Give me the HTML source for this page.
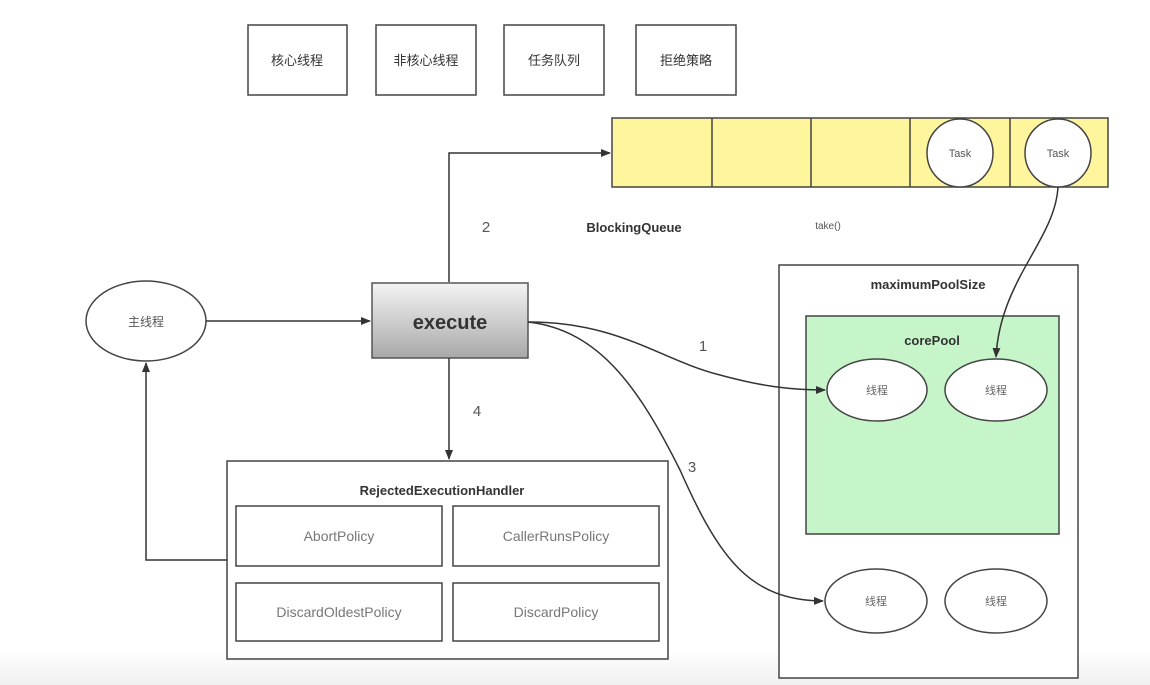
<!DOCTYPE html>
<html><head><meta charset="utf-8"><style>
html,body{margin:0;padding:0;background:#fff;}
svg{display:block;}
text{font-family:"Liberation Sans","Noto Sans CJK SC",sans-serif;}
</style></head><body>
<svg width="1150" height="685" viewBox="0 0 1150 685" xmlns="http://www.w3.org/2000/svg">
<defs>
<linearGradient id="bg" x1="0" y1="0" x2="0" y2="1">
<stop offset="0" stop-color="#ffffff"/><stop offset="1" stop-color="#f0f0f0"/>
</linearGradient>
<linearGradient id="ex" x1="0" y1="0" x2="0" y2="1">
<stop offset="0" stop-color="#f4f4f4"/><stop offset="1" stop-color="#a8a8a8"/>
</linearGradient>
<marker id="ar" markerWidth="10" markerHeight="8" refX="9" refY="4" orient="auto" markerUnits="userSpaceOnUse">
<path d="M0,0 L10,4 L0,8 z" fill="#333"/>
</marker>
</defs>
<rect x="0" y="650" width="1150" height="35" fill="url(#bg)"/>
<g fill="#fff" stroke="#444" stroke-width="1.5">
<rect x="248" y="25" width="99" height="70"/>
<rect x="376" y="25" width="100" height="70"/>
<rect x="504" y="25" width="100" height="70"/>
<rect x="636" y="25" width="100" height="70"/>
</g>
<g font-size="13" fill="#333" text-anchor="middle">
<text x="297" y="65">核心线程</text>
<text x="426" y="65">非核心线程</text>
<text x="554" y="65">任务队列</text>
<text x="686" y="65">拒绝策略</text>
</g>
<rect x="612" y="118" width="496" height="69" fill="#fff59d" stroke="#444" stroke-width="1.5"/>
<g stroke="#444" stroke-width="1.5">
<line x1="712" y1="118" x2="712" y2="187"/><line x1="811" y1="118" x2="811" y2="187"/>
<line x1="910" y1="118" x2="910" y2="187"/><line x1="1010" y1="118" x2="1010" y2="187"/>
</g>
<g fill="#fff" stroke="#444" stroke-width="1.5">
<ellipse cx="960" cy="153" rx="33" ry="34"/><ellipse cx="1058" cy="153" rx="33" ry="34"/>
</g>
<g font-size="11" fill="#555" text-anchor="middle">
<text x="960" y="157">Task</text><text x="1058" y="157">Task</text>
</g>
<path d="M449,282 L449,153 L610,153" fill="none" stroke="#333" stroke-width="1.5" marker-end="url(#ar)"/>
<text x="486" y="232" font-size="15" fill="#555" text-anchor="middle">2</text>
<text x="634" y="232" font-size="13" font-weight="bold" fill="#333" text-anchor="middle">BlockingQueue</text>
<text x="828" y="229" font-size="10" fill="#555" text-anchor="middle">take()</text>
<ellipse cx="146" cy="321" rx="60" ry="40" fill="#fff" stroke="#444" stroke-width="1.5"/>
<text x="146" y="326" font-size="12" fill="#555" text-anchor="middle">主线程</text>
<line x1="206" y1="321" x2="370" y2="321" stroke="#333" stroke-width="1.5" marker-end="url(#ar)"/>
<rect x="372" y="283" width="156" height="75" fill="url(#ex)" stroke="#555" stroke-width="1.5"/>
<text x="450" y="329" font-size="20" font-weight="bold" fill="#333" text-anchor="middle">execute</text>
<line x1="449" y1="358" x2="449" y2="459" stroke="#333" stroke-width="1.5" marker-end="url(#ar)"/>
<text x="477" y="416" font-size="15" fill="#555" text-anchor="middle">4</text>
<rect x="227" y="461" width="441" height="198" fill="#fff" stroke="#444" stroke-width="1.5"/>
<text x="442" y="495" font-size="13" font-weight="bold" fill="#333" text-anchor="middle">RejectedExecutionHandler</text>
<g fill="#fff" stroke="#444" stroke-width="1.5">
<rect x="236" y="506" width="206" height="60"/><rect x="453" y="506" width="206" height="60"/>
<rect x="236" y="583" width="206" height="58"/><rect x="453" y="583" width="206" height="58"/>
</g>
<g font-size="14" fill="#777" text-anchor="middle">
<text x="339" y="541">AbortPolicy</text><text x="556" y="541">CallerRunsPolicy</text>
<text x="339" y="617">DiscardOldestPolicy</text><text x="556" y="617">DiscardPolicy</text>
</g>
<path d="M227,560 L146,560 L146,363" fill="none" stroke="#333" stroke-width="1.5" marker-end="url(#ar)"/>
<rect x="779" y="265" width="299" height="413" fill="#fff" stroke="#444" stroke-width="1.5"/>
<text x="928" y="289" font-size="13" font-weight="bold" fill="#333" text-anchor="middle">maximumPoolSize</text>
<rect x="806" y="316" width="253" height="218" fill="#c6f5c9" stroke="#444" stroke-width="1.5"/>
<text x="932" y="345" font-size="13" font-weight="bold" fill="#333" text-anchor="middle">corePool</text>
<g fill="#fff" stroke="#444" stroke-width="1.5">
<ellipse cx="877" cy="390" rx="50" ry="31"/><ellipse cx="996" cy="390" rx="51" ry="31"/>
<ellipse cx="876" cy="601" rx="51" ry="32"/><ellipse cx="996" cy="601" rx="51" ry="32"/>
</g>
<g font-size="11" fill="#666" text-anchor="middle">
<text x="877" y="394">线程</text><text x="996" y="394">线程</text>
<text x="876" y="605">线程</text><text x="996" y="605">线程</text>
</g>
<path d="M528,322 C620,322 660,360 720,375 C760,386 790,390 825,390" fill="none" stroke="#333" stroke-width="1.5" marker-end="url(#ar)"/>
<text x="703" y="351" font-size="15" fill="#555" text-anchor="middle">1</text>
<path d="M528,322 C600,330 640,390 680,470 C720,560 750,600 823,601" fill="none" stroke="#333" stroke-width="1.5" marker-end="url(#ar)"/>
<text x="692" y="472" font-size="15" fill="#555" text-anchor="middle">3</text>
<path d="M1058,187 C1055,240 1000,280 996,357" fill="none" stroke="#333" stroke-width="1.5" marker-end="url(#ar)"/>
</svg>
</body></html>
